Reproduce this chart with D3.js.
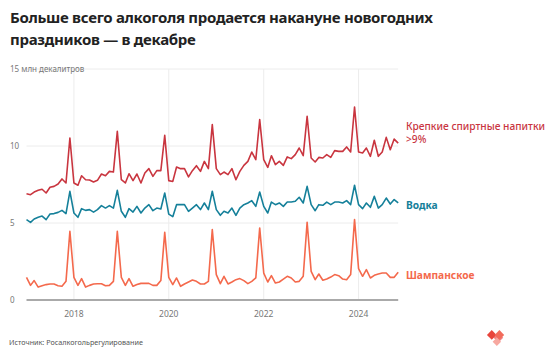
<!DOCTYPE html>
<html>
<head>
<meta charset="utf-8">
<script src="https://cdn.jsdelivr.net/npm/d3@7"></script>
<style>
  body { margin: 0; background: #fff; }
  text { font-family: "Noto Sans", sans-serif; }
</style>
</head>
<body>
<script>
// monthly sales, million decalitres, Jan 2017 - Nov 2024
let spirits = [
  6.90, 6.84, 7.01, 7.12, 7.19, 6.95, 7.32, 7.38, 7.53, 7.86, 7.60, 10.52,
  7.60, 7.45, 8.07, 7.81, 7.79, 7.66, 7.77, 8.18, 8.07, 8.35, 8.31, 10.95,
  7.81, 7.60, 8.20, 7.75, 8.18, 7.60, 8.25, 8.53, 8.03, 8.40, 8.40, 10.69,
  7.75, 7.70, 8.64, 8.53, 8.53, 7.99, 8.40, 8.72, 8.35, 9.00, 8.53, 11.39,
  8.53, 8.14, 8.31, 8.14, 8.53, 7.81, 8.35, 8.74, 9.00, 9.61, 9.11, 11.71,
  9.11, 8.61, 9.37, 8.79, 9.00, 8.74, 9.29, 9.18, 9.44, 9.87, 9.37, 11.93,
  9.22, 8.96, 9.26, 9.22, 9.44, 9.26, 9.70, 9.65, 9.65, 9.94, 9.61, 12.53,
  9.61, 9.55, 9.87, 9.33, 10.37, 9.33, 9.61, 10.56, 9.76, 10.45, 10.19
];
let vodka = [
  5.22, 5.04, 5.26, 5.37, 5.45, 5.22, 5.58, 5.61, 5.69, 5.82, 5.61, 7.06,
  5.65, 5.37, 5.93, 5.82, 5.87, 5.71, 5.87, 6.13, 5.97, 6.13, 5.97, 7.12,
  5.76, 5.37, 5.93, 5.71, 6.08, 5.65, 5.97, 6.19, 5.80, 5.97, 5.91, 6.95,
  5.58, 5.41, 6.19, 6.19, 6.19, 5.76, 5.97, 6.19, 5.87, 6.30, 5.87, 7.06,
  5.87, 5.50, 5.76, 5.65, 5.97, 5.50, 5.97, 6.19, 6.30, 6.45, 6.08, 7.01,
  6.08, 5.65, 6.36, 6.19, 6.30, 6.08, 6.36, 6.36, 6.41, 6.67, 6.30, 7.38,
  6.19, 5.80, 6.19, 6.15, 6.36, 6.19, 6.36, 6.36, 6.30, 6.45, 6.19, 7.45,
  6.19, 5.93, 6.30, 6.02, 6.73, 5.97, 6.19, 6.62, 6.23, 6.52, 6.30
];
let champagne = [
  1.47, 0.95, 1.26, 0.84, 0.93, 1.00, 1.04, 1.04, 0.93, 0.89, 1.21, 4.46,
  1.47, 0.95, 1.39, 0.84, 0.95, 1.04, 1.06, 1.06, 0.93, 0.95, 1.21, 4.46,
  1.47, 0.95, 1.39, 0.89, 1.00, 1.08, 1.08, 1.08, 0.95, 0.95, 1.26, 4.39,
  1.47, 1.00, 1.43, 0.89, 1.04, 1.17, 1.30, 1.21, 1.04, 1.04, 1.21, 4.57,
  1.65, 1.06, 1.54, 1.04, 1.17, 1.32, 1.39, 1.26, 1.06, 1.21, 1.43, 4.68,
  1.75, 1.17, 1.58, 1.10, 1.17, 1.36, 1.54, 1.43, 1.17, 1.21, 1.54, 5.04,
  1.86, 1.32, 1.69, 1.28, 1.36, 1.49, 1.65, 1.58, 1.36, 1.32, 1.65, 5.22,
  2.03, 1.54, 1.97, 1.43, 1.60, 1.69, 1.75, 1.75, 1.47, 1.47, 1.80
];
let yTicks = [0, 5, 10, 15];
let yearTicks = [2018, 2020, 2022, 2024];
let seriesNames = ["Крепкие спиртные напитки", "Водка", "Шампанское"];

let months = d3.timeMonth.range(new Date(2017, 0, 1), new Date(2024, 11, 1));

let width = 560, height = 361;
let plotLeft = 26.5, plotRight = 398.2, plotTop = 69, plotBottom = 300;

let svg = d3.select("body").append("svg")
    .attr("width", width)
    .attr("height", height);

let x = d3.scaleTime()
    .domain([months[0], months[months.length - 1]])
    .range([plotLeft, plotRight]);

let y = d3.scaleLinear()
    .domain([0, 15])
    .range([plotBottom, plotTop]);

// title
let title = svg.append("text")
    .attr("x", 10)
    .attr("y", 23)
    .attr("font-size", 15)
    .attr("font-weight", "bold")
    .attr("letter-spacing", -0.3)
    .attr("fill", "#222");
title.append("tspan").attr("x", 10).text("Больше всего алкоголя продается накануне новогодних");
title.append("tspan").attr("x", 10).attr("dy", 21.5).text("праздников — в декабре");

// grid
let grid = svg.append("g");
grid.selectAll(".hg")
    .data(yTicks.filter(d => d > 0))
    .enter().append("line")
    .attr("x1", plotLeft).attr("x2", plotRight)
    .attr("y1", d => y(d)).attr("y2", d => y(d))
    .attr("stroke", "#ececec").attr("stroke-width", 1);
grid.selectAll(".vg")
    .data(yearTicks)
    .enter().append("line")
    .attr("x1", d => x(new Date(d, 0, 1))).attr("x2", d => x(new Date(d, 0, 1)))
    .attr("y1", plotTop).attr("y2", plotBottom)
    .attr("stroke", "#ececec").attr("stroke-width", 1);

// y labels
svg.append("g").selectAll("text")
    .data(yTicks)
    .enter().append("text")
    .attr("x", 10)
    .attr("y", d => y(d) + 3)
    .attr("font-size", 8)
    .attr("fill", "#777")
    .text(d => d == 15 ? "15 млн декалитров" : d);

// x axis
svg.append("line")
    .attr("x1", plotLeft).attr("x2", plotRight)
    .attr("y1", plotBottom).attr("y2", plotBottom)
    .attr("stroke", "#aaa").attr("stroke-width", 2);

svg.append("g").selectAll("text")
    .data(yearTicks)
    .enter().append("text")
    .attr("x", d => x(new Date(d, 0, 1)))
    .attr("y", 317)
    .attr("text-anchor", "middle")
    .attr("font-size", 8.5)
    .attr("fill", "#777")
    .text(d => d);

// lines
let line = d3.line()
    .x((d, i) => x(months[i]))
    .y(d => y(d));

let series = [
  {values: spirits, color: "#c9353f"},
  {values: vodka, color: "#15809a"},
  {values: champagne, color: "#f4694c"}
];

svg.append("g").selectAll("path")
    .data(series)
    .enter().append("path")
    .attr("d", d => line(d.values))
    .attr("fill", "none")
    .attr("stroke", d => d.color)
    .attr("stroke-width", 1.6)
    .attr("stroke-linejoin", "round");

// labels at right
let lab1 = svg.append("text")
    .attr("x", 406).attr("y", 130)
    .attr("font-size", 10.2)
    .attr("font-weight", 500)
    .attr("fill", series[0].color);
lab1.append("tspan").attr("x", 406).text(seriesNames[0]);
lab1.append("tspan").attr("x", 406).attr("dy", 13).text(">9%");

svg.append("text")
    .attr("x", 406).attr("y", 209)
    .attr("font-size", 10.2)
    .attr("font-weight", "bold")
    .attr("fill", series[1].color)
    .text(seriesNames[1]);

svg.append("text")
    .attr("x", 406).attr("y", 279)
    .attr("font-size", 10.2)
    .attr("font-weight", "bold")
    .attr("fill", series[2].color)
    .text(seriesNames[2]);

// source
svg.append("text")
    .attr("x", 9).attr("y", 345)
    .attr("font-size", 7.2)
    .attr("fill", "#555")
    .text("Источник: Росалкогольрегулирование");

// logo
let logo = svg.append("g").attr("transform", "translate(496,339) scale(0.85)");
logo.append("rect").attr("x", -6).attr("y", -6).attr("width", 8).attr("height", 8)
    .attr("fill", "#f08080").attr("transform", "rotate(45) translate(3,-1)");
logo.append("rect").attr("x", -6).attr("y", -6).attr("width", 8).attr("height", 8)
    .attr("fill", "#e8453c").attr("transform", "translate(-5,-2) rotate(45)");
logo.append("rect").attr("x", -6).attr("y", -6).attr("width", 8).attr("height", 8)
    .attr("fill", "#f26b5b").attr("transform", "translate(4,-2) rotate(45)");
logo.append("rect").attr("x", -4).attr("y", -4).attr("width", 7).attr("height", 7)
    .attr("fill", "#f7a8a0").attr("transform", "translate(1,4) rotate(45)");
</script>
</body>
</html>
